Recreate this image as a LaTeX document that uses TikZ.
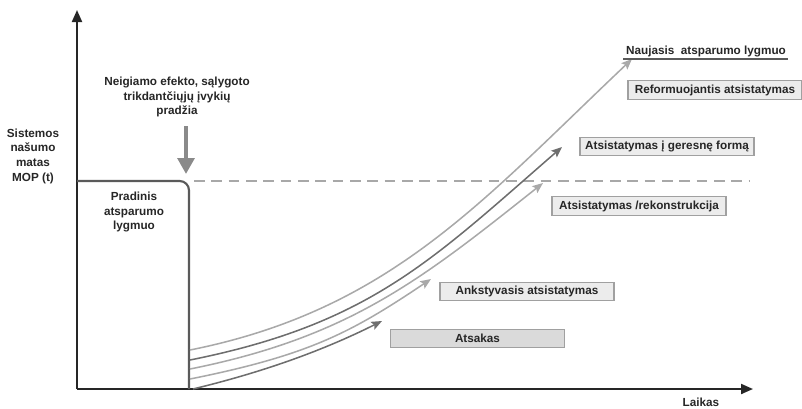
\documentclass[tikz,border=0pt]{standalone}
\usepackage{fontspec}
\setmainfont{Liberation Sans}
\usetikzlibrary{arrows.meta}

\definecolor{axisink}{HTML}{262626}
\definecolor{levelink}{HTML}{5A5A5A}
\definecolor{dashink}{HTML}{A8A8A8}
\definecolor{darkpath}{HTML}{6E6E6E}
\definecolor{lightpath}{HTML}{A9A9A9}
\definecolor{eventink}{HTML}{8A8A8A}
\definecolor{boxline}{HTML}{A0A0A0}
\definecolor{boxfill}{HTML}{ECECEC}
\definecolor{boxfilldark}{HTML}{DADADA}

\begin{document}
\begin{tikzpicture}[x=0.75pt,y=-0.75pt,
  lbl/.style={font=\fontsize{8.8}{11}\selectfont\bfseries, align=center, inner sep=0pt, text=black!85},
  tag/.style={lbl, draw=boxline, line width=0.8pt, fill=boxfill, minimum width=130.5pt, minimum height=14pt},
  axis/.style={draw=axisink, line width=1.5pt, -{Triangle[length=9pt,width=7.5pt]}},
  curvedark/.style={draw=darkpath, line width=1.15pt, -{Stealth[length=8pt,width=6.5pt,inset=1.5pt]}},
  curvelight/.style={draw=lightpath, line width=1.15pt, -{Stealth[length=8pt,width=6.5pt,inset=1.5pt]}}
]
\useasboundingbox (0,0) rectangle (802,408);

% axes
\coordinate (origin) at (77,389);
\coordinate (ytop) at (77,10);
\coordinate (xend) at (753,389);
\draw[axis] (origin) -- (ytop);
\draw[axis] (origin) -- (xend);

% initial resilience level
\coordinate (lvlL) at (77,181);
\coordinate (lvlC) at (189,181);
\coordinate (lvlB) at (189,389);
\draw[levelink, line width=1.6pt, rounded corners=7pt] (lvlL) -- (lvlC) -- (lvlB);
\coordinate (dashS) at (194,181);
\coordinate (dashE) at (750,181);
\draw[dashink, line width=1.5pt, dash pattern=on 8pt off 5pt] (dashS) -- (dashE);

% onset of the disruptive event
\node[lbl] (onset) at (177,97) {Neigiamo efekto, sąlygoto\\trikdantčiųjų įvykių\\pradžia};
\coordinate (evTop) at (186,126);
\coordinate (evTip) at (186,174);
\draw[eventink, line width=3pt, -{Triangle[length=12pt,width=12.5pt]}] (evTop) -- (evTip);

% axis labels
\node[lbl] (ylab) at (33,156) {Sistemos\\našumo\\matas\\MOP (t)};
\node[lbl] (xlab) at (701,402) {Laikas};
\node[lbl] (initial) at (134,212) {Pradinis\\atsparumo\\lygmuo};

% recovery paths
\coordinate (c1s) at (193,389); \coordinate (c1e) at (382,321);
\coordinate (c2s) at (190,379); \coordinate (c2e) at (431,279);
\coordinate (c3s) at (190,369); \coordinate (c3e) at (543,183);
\coordinate (c4s) at (190,360); \coordinate (c4e) at (562,147);
\coordinate (c5s) at (190,350); \coordinate (c5e) at (632,59);
\draw[curvedark]  (c1s) .. controls (263,372) and (322,351) .. (c1e);
\draw[curvelight] (c2s) .. controls (310,355) and (352,332) .. (c2e);
\draw[curvelight] (c3s) .. controls (350,337) and (422,279) .. (c3e);
\draw[curvedark]  (c4s) .. controls (370,324) and (432,260) .. (c4e);
\draw[curvelight] (c5s) .. controls (390,310) and (482,201) .. (c5e);

% new resilience level
\node[lbl, anchor=base] (newlvl) at (706,54) {Naujasis\ \ atsparumo lygmuo};
\coordinate (nlL) at (623,59);
\coordinate (nlR) at (788,59);
\draw[levelink, line width=1.5pt] (nlL) -- (nlR);

% phase labels
\node[tag] (reform) at (715,90) {Reformuojantis atsistatymas};
\node[tag] (better) at (667,146.5) {Atsistatymas į geresnę formą};
\node[tag] (rebuild) at (639,206) {Atsistatymas /rekonstrukcija};
\node[tag] (early) at (527,291.5) {Ankstyvasis atsistatymas};
\node[tag, fill=boxfilldark] (response) at (477.5,338.5) {Atsakas};
\end{tikzpicture}
\end{document}
